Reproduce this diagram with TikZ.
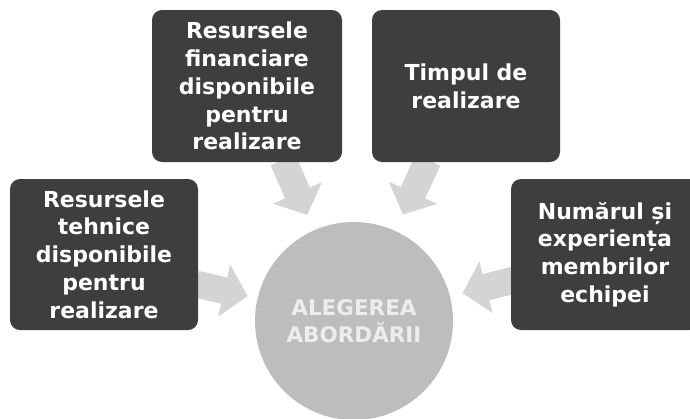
\documentclass[tikz,border=0pt]{standalone}
\usepackage{fontspec}
\setmainfont{DejaVu Sans}
\usetikzlibrary{calc,arrows.meta}
\definecolor{boxgray}{HTML}{3E3E3E}
\definecolor{circgray}{HTML}{BDBDBD}
\definecolor{arrgray}{HTML}{D4D4D4}
\tikzset{
  factor/.style={draw=none, fill=boxgray, rounded corners=10pt, text=white,
    align=center, inner sep=0pt,
    font=\fontsize{22}{27.8}\selectfont\bfseries},
  hub/.style={circle, fill=circgray, minimum size=198pt, inner sep=0pt,
    text=white!93!black, align=center,
    font=\fontsize{21.5}{27.5}\selectfont\bfseries},
  blockarrow/.style={draw=arrgray, line width=27pt,
    -{Triangle[width=52pt,length=24pt]}}
}
\begin{document}
\begin{tikzpicture}[x=1pt,y=-1pt]
\useasboundingbox (0,0) rectangle (690,418);
\clip (0,0) rectangle (690,418);
\fill[white] (0,0) rectangle (690,418);
% hub position
\coordinate (c) at (354,321);
% arrow tails
\coordinate (a1) at (283,160);
\coordinate (a2) at (428,160);
\coordinate (a3) at (196,284);
\coordinate (a4) at (514,280);
\draw[blockarrow] (a1) -- ($(a1)!60pt!(c)$);
\draw[blockarrow] (a2) -- ($(a2)!60pt!(c)$);
\draw[blockarrow] (a3) -- ($(a3)!53pt!(c)$);
\draw[blockarrow] (a4) -- ($(a4)!53pt!(c)$);
% hub
\node[hub] (circ) at (c) {ALEGEREA\\ABORDĂRII};
% factor boxes
\node[factor, minimum width=190pt, minimum height=152pt] (fin) at (247,86)
  {Resursele\\financiare\\disponibile\\pentru\\realizare};
\node[factor, minimum width=188pt, minimum height=152pt] (timp) at (466,86)
  {Timpul de\\realizare};
\node[factor, minimum width=188pt, minimum height=151pt] (teh) at (104,254.5)
  {Resursele\\tehnice\\disponibile\\pentru\\realizare};
\node[factor, minimum width=188pt, minimum height=151pt] (num) at (605,254.5)
  {Numărul și\\experiența\\membrilor\\echipei};
\end{tikzpicture}
\end{document}
